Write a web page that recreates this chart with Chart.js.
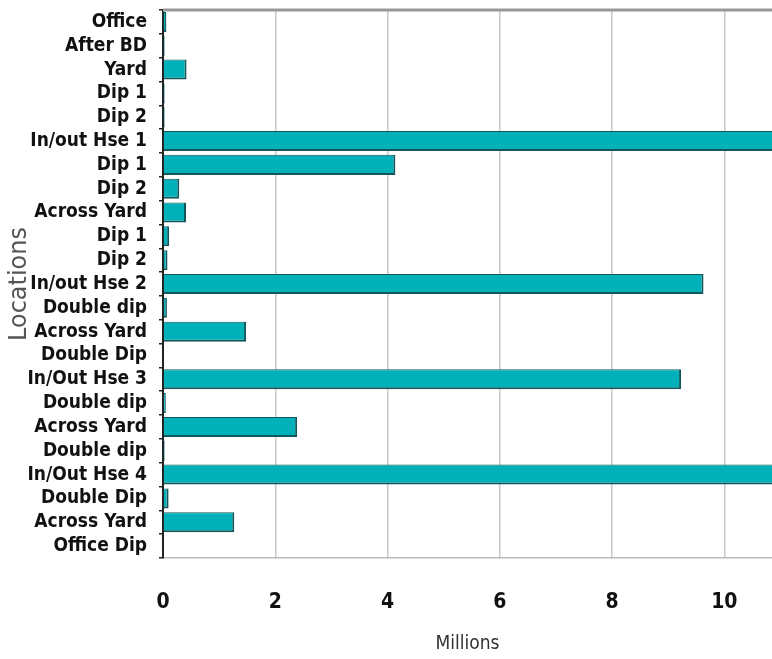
<!DOCTYPE html>
<html>
<head>
<meta charset="utf-8">
<script src="https://cdn.jsdelivr.net/npm/chart.js@4.4.1/dist/chart.umd.min.js"></script>
<style>
  html, body { margin: 0; padding: 0; background: #fff; }
  #wrap { width: 772px; height: 659px; }
</style>
</head>
<body>
<div id="wrap"><canvas id="locations" width="772" height="659"></canvas></div>
<script>
// location labels, top to bottom
const locations = [
    'Office', 'After BD', 'Yard', 'Dip 1', 'Dip 2', 'In/out Hse 1', 'Dip 1', 'Dip 2',
    'Across Yard', 'Dip 1', 'Dip 2', 'In/out Hse 2', 'Double dip', 'Across Yard',
    'Double Dip', 'In/Out Hse 3', 'Double dip', 'Across Yard', 'Double dip',
    'In/Out Hse 4', 'Double Dip', 'Across Yard', 'Office Dip'
];
// values in millions (two bars run past the right edge of the picture)
const millions = [
    0.06, 0.03, 0.42, 0.03, 0.03, 11.5, 4.14, 0.29,
    0.41, 0.11, 0.08, 9.63, 0.07, 1.48,
    0.02, 9.23, 0.05, 2.39, 0.03,
    11.5, 0.10, 1.27, 0.01
];
const xMax = 10.85;
const xStep = 2;

const narrow = "'DejaVu Sans Condensed', 'Liberation Sans Narrow', sans-serif";

// top frame line of the plot area
const topFrame = {
    id: 'topFrame',
    afterDraw(chart) {
        const { ctx, chartArea } = chart;
        ctx.save();
        ctx.strokeStyle = '#999999';
        ctx.lineWidth = 3;
        ctx.beginPath();
        ctx.moveTo(chartArea.left, chartArea.top);
        ctx.lineTo(chartArea.right, chartArea.top);
        ctx.stroke();
        ctx.restore();
    }
};

const ctx = document.getElementById('locations').getContext('2d');
new Chart(ctx, {
    type: 'bar',
    data: {
        labels: locations,
        datasets: [{
            label: 'Millions',
            data: millions,
            backgroundColor: '#00b1ba',
            borderColor: '#14575b',
            borderWidth: { top: 1, bottom: 2, right: 2, left: 0 },
            borderSkipped: false,
            categoryPercentage: 1,
            barPercentage: 0.84
        }]
    },
    options: {
        indexAxis: 'y',
        responsive: false,
        animation: false,
        layout: { padding: { top: 10, right: 0, left: 0, bottom: 0 } },
        plugins: {
            legend: { display: false },
            tooltip: { enabled: false }
        },
        scales: {
            x: {
                min: 0,
                max: xMax,
                afterFit: (scale) => { scale.height = 101; },
                ticks: {
                    stepSize: xStep,
                    includeBounds: false,
                    padding: 32,
                    color: '#111',
                    font: { family: narrow, size: 21, weight: 'bold' }
                },
                grid: { color: '#c8c8c8', lineWidth: 1.5, drawTicks: false },
                border: { color: '#bbbbbb', width: 1.5 },
                title: {
                    display: true,
                    text: 'Millions',
                    color: '#333',
                    padding: { top: 4, bottom: 4 },
                    font: { family: narrow, size: 19 }
                }
            },
            y: {
                afterFit: (scale) => {
                    scale.width = 163;
                    scale.paddingTop = 0;
                    scale.paddingBottom = 0;
                },
                ticks: {
                    padding: 12,
                    color: '#111',
                    autoSkip: false,
                    font: { family: narrow, size: 19, weight: 'bold' }
                },
                grid: { drawOnChartArea: false, drawTicks: true, tickLength: 4, color: '#222', lineWidth: 1.5 },
                border: { color: '#222', width: 2 },
                title: {
                    display: true,
                    text: 'Locations',
                    color: '#555',
                    padding: { top: 5, bottom: 0 },
                    font: { family: "'DejaVu Sans', sans-serif", size: 24 }
                }
            }
        }
    },
    plugins: [topFrame]
});
</script>
</body>
</html>
